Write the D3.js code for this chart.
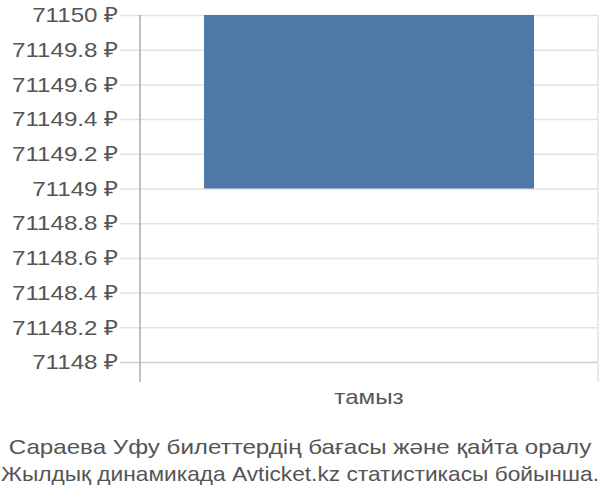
<!DOCTYPE html>
<html>
<head>
<meta charset="utf-8">
<script src="https://cdn.jsdelivr.net/npm/d3@7"></script>
<style>
  body { margin: 0; background: #fff; }
  svg { font-family: "Liberation Sans", Arial, sans-serif; }
</style>
</head>
<body>
<svg id="chart" width="600" height="500"></svg>
<script>
// chart data
const months = ["тамыз"];
const barFrom = [71149];
const barTo = [71150];
const yTicks = [71148, 71148.2, 71148.4, 71148.6, 71148.8, 71149, 71149.2, 71149.4, 71149.6, 71149.8, 71150];
const titleLines = [
    "Сараева Уфу билеттердің бағасы және қайта оралу",
    "Жылдық динамикада Avticket.kz статистикасы бойынша."
];

var margin = { top: 15, right: 2, bottom: 138, left: 140 };
var width = 600 - margin.left - margin.right;
var height = 500 - margin.top - margin.bottom;

// the text in the picture is a bit wider than the font, stretch it
function stretch(sel, maxLen) {
    sel.each(function () {
        var len = this.getComputedTextLength() * 1.15;
        if (maxLen && len > maxLen) len = maxLen;
        d3.select(this)
            .attr("textLength", len)
            .attr("lengthAdjust", "spacingAndGlyphs");
    });
}

var svg = d3.select("#chart")
    .append("g")
    .attr("transform", "translate(" + margin.left + "," + margin.top + ")");

var xScale = d3.scaleBand()
    .domain(months)
    .range([0, width])
    .padding(0.1625);

var yScale = d3.scaleLinear()
    .domain([71148, 71150])
    .range([height, 0]);

// grid lines, starting 20px left of the axis
var yAxis = d3.axisLeft(yScale)
    .tickValues(yTicks)
    .tickSize(-(width + 20))
    .tickFormat(d => d3.format("~f")(+d.toFixed(1)) + " ₽")
    .tickPadding(2);

var gy = svg.append("g")
    .attr("class", "y-axis")
    .attr("transform", "translate(-20,0)")
    .call(yAxis);

gy.select(".domain").remove();
gy.selectAll(".tick line")
    .attr("stroke", "#e2e2e2")
    .attr("stroke-width", 1.5);
gy.selectAll(".tick")
    .filter(d => d === 71148)
    .select("line")
    .attr("stroke", "#ccc");
gy.selectAll(".tick text")
    .attr("fill", "#555")
    .style("font-size", "21px")
    .call(stretch);

// bars
svg.selectAll(".bar")
    .data(months)
    .enter()
    .append("rect")
    .attr("class", "bar")
    .attr("x", d => xScale(d))
    .attr("y", (d, i) => yScale(barTo[i]))
    .attr("width", xScale.bandwidth())
    .attr("height", (d, i) => yScale(barFrom[i]) - yScale(barTo[i]))
    .attr("fill", "#4e79a7");

// left axis line and right border
svg.append("line")
    .attr("x1", 0).attr("x2", 0)
    .attr("y1", 0).attr("y2", height + 20)
    .attr("stroke", "#aaa")
    .attr("stroke-width", 1.5);

svg.append("line")
    .attr("x1", width).attr("x2", width)
    .attr("y1", 0).attr("y2", height + 20)
    .attr("stroke", "#e2e2e2")
    .attr("stroke-width", 1.5);

// x labels
svg.selectAll(".x-label")
    .data(months)
    .enter()
    .append("text")
    .attr("class", "x-label")
    .attr("text-anchor", "middle")
    .attr("x", d => xScale(d) + xScale.bandwidth() / 2)
    .attr("y", height + 42)
    .attr("fill", "#555")
    .style("font-size", "21px")
    .text(d => d)
    .call(stretch);

// title
d3.select("#chart").selectAll(".title")
    .data(titleLines)
    .enter()
    .append("text")
    .attr("class", "title")
    .attr("text-anchor", "middle")
    .attr("x", 300)
    .attr("y", (d, i) => 454 + i * 27)
    .attr("fill", "#555")
    .style("font-size", "21px")
    .text(d => d)
    .call(stretch, 598);
</script>
</body>
</html>
